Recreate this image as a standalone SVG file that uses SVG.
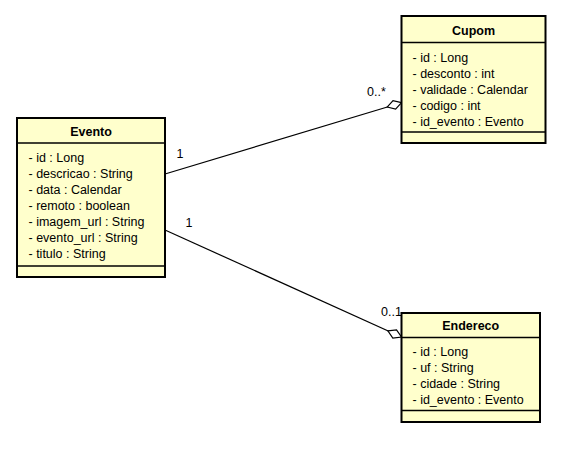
<svg xmlns="http://www.w3.org/2000/svg" width="587" height="452" viewBox="0 0 587 452">
<style>
.box{fill:#FFFFCC;stroke:#000;stroke-width:2}
.sep{stroke:#000;stroke-width:1.5}
.title{font-family:"Liberation Sans",Arial,sans-serif;font-size:12.5px;font-weight:bold;text-anchor:middle;fill:#000}
.attr{font-family:"Liberation Sans",Arial,sans-serif;font-size:12.5px;fill:#000}
.lbl{font-family:"Liberation Sans",Arial,sans-serif;font-size:12.5px;fill:#000}
.conn{stroke:#000;stroke-width:1.2;fill:none;marker-end:url(#diamond)}
</style>
<defs>
<marker id="diamond" markerUnits="userSpaceOnUse" markerWidth="18" markerHeight="12" viewBox="-1 -6 17 12" refX="15" refY="0" orient="auto">
<path d="M0,0 L7.5,-4.5 L15,0 L7.5,4.5 Z" fill="#fff" stroke="#000" stroke-width="1.2"/>
</marker>
</defs>
<rect width="587" height="452" fill="#fff"/>
<g id="connectors">
<path class="conn" d="M165,174 L401.5,102.7"/>
<path class="conn" d="M165,230 L401.5,337"/>
<text class="lbl" x="180" y="157.5" text-anchor="middle">1</text>
<text class="lbl" x="189" y="226.5" text-anchor="middle">1</text>
<text class="lbl" x="367" y="96">0..*</text>
<text class="lbl" x="381" y="316">0..1</text>
</g>
<g id="Evento">
<rect class="box" x="17" y="118" width="148" height="159"/>
<line class="sep" x1="17" y1="143" x2="165" y2="143"/>
<line class="sep" x1="17" y1="266" x2="165" y2="266"/>
<text class="title" x="91" y="136">Evento</text>
<text class="attr" x="28.5" y="162">- id : Long</text>
<text class="attr" x="28.5" y="178">- descricao : String</text>
<text class="attr" x="28.5" y="194">- data : Calendar</text>
<text class="attr" x="28.5" y="210">- remoto : boolean</text>
<text class="attr" x="28.5" y="226">- imagem_url : String</text>
<text class="attr" x="28.5" y="242">- evento_url : String</text>
<text class="attr" x="28.5" y="258">- titulo : String</text>
</g>
<g id="Cupom">
<rect class="box" x="401.5" y="16" width="144" height="127"/>
<line class="sep" x1="401.5" y1="42.5" x2="545.5" y2="42.5"/>
<line class="sep" x1="401.5" y1="132" x2="545.5" y2="132"/>
<text class="title" x="473.5" y="35">Cupom</text>
<text class="attr" x="412.5" y="61.5">- id : Long</text>
<text class="attr" x="412.5" y="77.5">- desconto : int</text>
<text class="attr" x="412.5" y="93.5">- validade : Calendar</text>
<text class="attr" x="412.5" y="109.5">- codigo : int</text>
<text class="attr" x="412.5" y="125.5">- id_evento : Evento</text>
</g>
<g id="Endereco">
<rect class="box" x="401.5" y="313" width="138.5" height="109"/>
<line class="sep" x1="401.5" y1="337.5" x2="540" y2="337.5"/>
<line class="sep" x1="401.5" y1="410.5" x2="540" y2="410.5"/>
<text class="title" x="470.7" y="330">Endereco</text>
<text class="attr" x="412.5" y="356">- id : Long</text>
<text class="attr" x="412.5" y="372">- uf : String</text>
<text class="attr" x="412.5" y="388">- cidade : String</text>
<text class="attr" x="412.5" y="404">- id_evento : Evento</text>
</g>
</svg>
